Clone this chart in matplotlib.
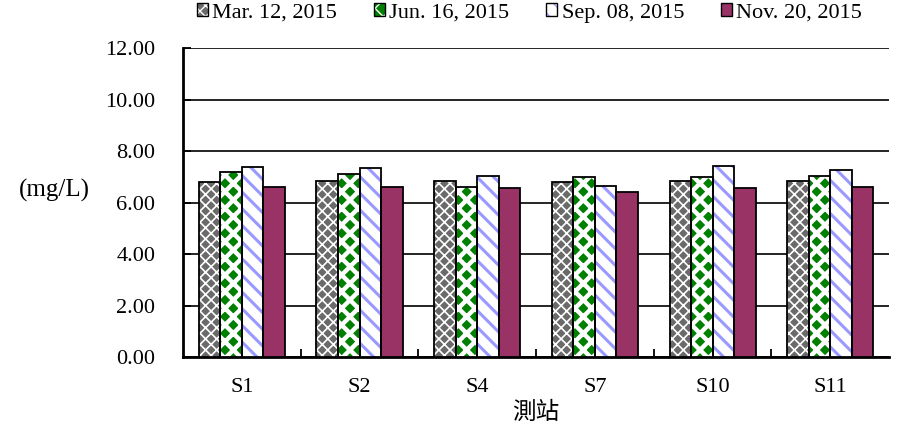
import numpy as np
import matplotlib.pyplot as plt
from matplotlib.patches import Patch

plt.rcParams['font.family'] = ['Liberation Serif', 'Noto Sans CJK TC']

# data
stations = ['S1', 'S2', 'S4', 'S7', 'S10', 'S11']
dates = ['Mar. 12, 2015', 'Jun. 16, 2015', 'Sep. 08, 2015', 'Nov. 20, 2015']
mar = [6.80, 6.85, 6.85, 6.80, 6.85, 6.85]
jun = [7.20, 7.12, 6.62, 7.00, 7.00, 7.05]
sep = [7.40, 7.35, 7.05, 6.65, 7.42, 7.28]
nov = [6.62, 6.62, 6.57, 6.42, 6.57, 6.62]
series = [mar, jun, sep, nov]

# face, hatch, hatch colour, hatch width
styles = [
    ('#6a6a6a', 'xxx', 'white', 1.2),
    ('#008000', 'xx', 'white', 3.2),
    ('white', '\\\\', '#9999ff', 2.2),
    ('#993366', '', 'black', 1.0),
]

fig = plt.figure(figsize=(8.99, 4.30), dpi=100)
ax = fig.add_axes([0.2036, 0.1698, 0.7854, 0.7182])

x = np.arange(len(stations))
w = 0.183
handles = []
for i, (vals, (fc, hatch, hc, hlw)) in enumerate(zip(series, styles)):
    plt.rcParams['hatch.linewidth'] = hlw
    pos = x + (i - 1.5) * w
    ax.bar(pos, vals, w, color=fc, hatch=hatch, edgecolor=hc, linewidth=0, zorder=3)
    ax.bar(pos, vals, w, color='none', edgecolor='black', linewidth=1.3, zorder=4)
    h1 = Patch(facecolor=fc, hatch=hatch, edgecolor=hc, linewidth=0)
    h2 = Patch(facecolor='none', edgecolor='black', linewidth=1.0)
    handles.append((h1, h2))

plt.rcParams['hatch.linewidth'] = 1.0

ax.set_xlim(-0.5, len(stations) - 0.5)
ax.set_ylim(0, 12)
ax.set_yticks(np.arange(0, 12.01, 2))
ax.set_yticklabels([f'{v:.2f}' for v in np.arange(0, 12.01, 2)])
ax.set_xticks(x)
ax.set_xticklabels(stations)
ax.set_xticks(np.arange(0.5, len(stations) - 0.5, 1), minor=True)
ax.tick_params(axis='x', which='major', length=0, pad=15, labelsize=16)
ax.tick_params(axis='x', which='minor', length=6, width=1.3, direction='in')
ax.tick_params(axis='y', length=6, width=1.3, direction='in', labelsize=16, pad=20)
ax.yaxis.grid(True, color='black', linewidth=1.2, zorder=0)
ax.set_axisbelow(True)

for s in ['top', 'right']:
    ax.spines[s].set_visible(False)
for s in ['left', 'bottom']:
    ax.spines[s].set_linewidth(2)

fig.text(0.596, 1 - 413 / 430, '測站', fontsize=17, ha='center', va='center')
fig.text(0.06, 1 - 190 / 430, '(mg/L)', fontsize=18, ha='center', va='center')

fig.legend(handles, dates, loc='center', bbox_to_anchor=(0.589, 1 - 13 / 430), ncol=4,
           frameon=False, fontsize=16, handlelength=0.5, handleheight=0.5,
           handletextpad=0.2, columnspacing=1.65, borderaxespad=0, borderpad=0)

fig.savefig('out.png', dpi=100)
